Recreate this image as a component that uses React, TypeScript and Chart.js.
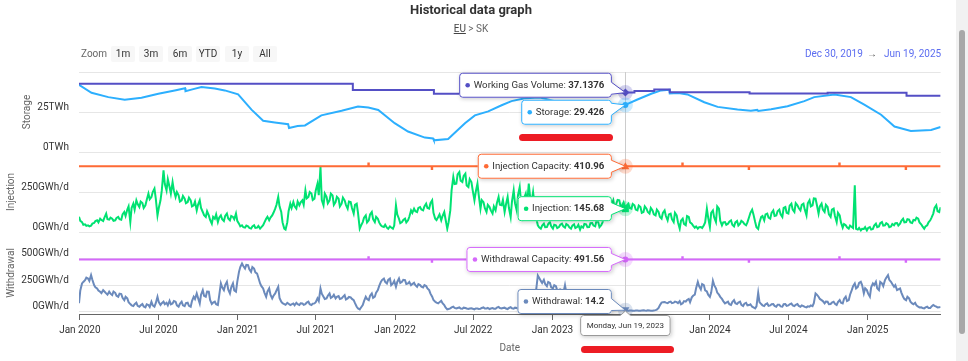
import React, { useEffect, useRef } from "react";
import { Chart, registerables } from "chart.js";

Chart.register(...registerables);

const FONT = 'Roboto, "Open Sans", sans-serif';

// ---------- data ----------
const WEEK_START = "2019-12-30"; // first Monday sample; *_MON on Mondays, *_THU three days later

const INJECTION_MON = [
  95, 62, 48, 42, 40, 56, 73, 83, 69, 115,
  77, 83, 73, 94, 77, 125, 140, 62, 177, 198,
  156, 181, 167, 240, 219, 271, 104, 198, 385, 260,
  281, 312, 219, 229, 198, 208, 187, 198, 167, 135,
  198, 125, 94, 104, 52, 83, 62, 104, 69, 115,
  73, 94, 115, 52, 42, 27, 35, 21, 42, 27,
  21, 42, 83, 73, 104, 146, 219, 125, 21, 60,
  177, 187, 146, 167, 198, 260, 219, 240, 208, 302,
  406, 167, 219, 198, 229, 187, 208, 177, 198, 146,
  187, 115, 177, 21, 62, 104, 73, 125, 62, 83,
  42, 31, 27, 35, 21, 167, 83, 62, 83, 73,
  135, 146, 125, 156, 135, 177, 146, 198, 83, 94,
  73, 125, 21, 135, 344, 302, 375, 312, 365, 281,
  312, 198, 302, 146, 187, 125, 156, 115, 135, 219,
  167, 125, 219, 94, 260, 135, 281, 115, 240, 302,
  198, 156, 42, 21, 52, 31, 62, 21, 42, 31,
  52, 27, 42, 21, 48, 31, 15, 27, 48, 31,
  56, 35, 62, 42, 94, 146, 125, 198, 177, 198,
  167, 145.68, 177, 146, 167, 135, 156, 125, 146, 115,
  135, 104, 125, 83, 135, 73, 115, 62, 104, 21,
  83, 42, 94, 52, 27, 21, 31, 42, 146, 31,
  135, 62, 146, 42, 62, 52, 73, 35, 69, 52,
  62, 42, 94, 140, 62, 19, 94, 73, 115, 83,
  135, 104, 140, 94, 156, 115, 177, 125, 167, 135,
  177, 104, 198, 167, 208, 115, 177, 125, 156, 94,
  146, 62, 104, 27, 42, 21, 31, 292, 15, 10,
  19, 10, 31, 19, 52, 35, 62, 42, 48, 35,
  42, 56, 52, 83, 62, 77, 56, 73, 83, 48,
  21, 42, 73, 115, 167, 125, 140,
];
const INJECTION_THU = [
  70, 45, 38, 35, 52, 68, 60, 75, 90, 80,
  90, 70, 88, 80, 110, 100, 160, 150, 140, 175,
  190, 150, 200, 205, 250, 210, 150, 260, 300, 330,
  240, 260, 250, 190, 225, 180, 215, 160, 190, 170,
  150, 105, 130, 75, 95, 110, 90, 80, 100, 85,
  100, 80, 70, 35, 30, 40, 25, 35, 25, 38,
  30, 60, 95, 90, 120, 170, 160, 60, 15, 130,
  150, 160, 190, 185, 170, 210, 250, 200, 260, 230,
  200, 240, 180, 240, 170, 220, 160, 215, 170, 190,
  150, 170, 120, 40, 90, 60, 110, 80, 95, 60,
  35, 45, 20, 28, 40, 110, 55, 75, 60, 95,
  120, 130, 150, 140, 160, 150, 180, 120, 75, 110,
  100, 80, 60, 260, 300, 360, 320, 350, 290, 330,
  260, 250, 230, 200, 150, 170, 135, 160, 180, 170,
  200, 170, 150, 190, 180, 230, 190, 210, 170, 220,
  250, 90, 30, 40, 30, 50, 35, 45, 25, 45,
  35, 50, 30, 40, 25, 45, 35, 50, 30, 55,
  40, 70, 30, 60, 130, 100, 170, 150, 200, 160,
  185, 165, 150, 175, 140, 165, 120, 160, 125, 150,
  110, 140, 95, 120, 100, 110, 80, 120, 60, 70,
  50, 100, 60, 40, 35, 30, 25, 60, 90, 120,
  90, 160, 70, 60, 45, 65, 45, 60, 40, 70,
  50, 60, 120, 110, 30, 60, 100, 110, 90, 120,
  100, 130, 110, 150, 120, 165, 140, 180, 150, 170,
  140, 180, 160, 210, 170, 160, 140, 170, 110, 140,
  100, 120, 60, 50, 30, 40, 25, 20, 25, 20,
  30, 25, 15, 40, 30, 55, 40, 55, 30, 50,
  55, 40, 70, 60, 80, 60, 75, 90, 60, 35,
  35, 60, 90, 150, 130, 155, 145,
];

const WITHDRAWAL_MON = [
  80, 266, 297, 312, 344, 250, 219, 188, 203, 172,
  188, 156, 178, 141, 166, 109, 125, 72, 53, 84,
  47, 72, 41, 63, 94, 47, 141, 63, 94, 84,
  103, 78, 94, 47, 94, 53, 84, 47, 141, 172,
  78, 203, 141, 188, 72, 94, 63, 266, 203, 281,
  172, 266, 188, 375, 453, 406, 438, 375, 406, 359,
  266, 219, 141, 219, 125, 172, 234, 94, 72, 84,
  63, 78, 84, 63, 78, 72, 94, 63, 78, 125,
  219, 141, 125, 172, 141, 125, 147, 125, 156, 125,
  134, 109, 47, 22, 63, 141, 109, 172, 141, 203,
  281, 312, 266, 312, 266, 234, 312, 281, 297, 266,
  250, 272, 234, 250, 228, 241, 203, 141, 94, 78,
  103, 63, 22, 31, 47, 30, 40, 28, 35, 25,
  32, 22, 30, 28, 40, 30, 25, 35, 28, 45,
  30, 38, 25, 42, 28, 35, 30, 45, 55, 40,
  60, 90, 340, 290, 300, 240, 270, 220, 240, 180,
  200, 250, 150, 140, 110, 120, 90, 100, 75, 85,
  60, 70, 55, 65, 50, 60, 55, 63, 50, 40,
  25, 14.2, 10, 12, 8, 12, 10, 14, 9, 12,
  10, 15, 35, 85, 92, 80, 95, 85, 90, 100,
  80, 95, 120, 135, 160, 280, 210, 250, 190, 140,
  290, 220, 160, 120, 78, 94, 63, 109, 72, 94,
  53, 84, 63, 47, 31, 178, 72, 53, 78, 59,
  72, 47, 66, 47, 72, 59, 78, 53, 72, 47,
  53, 41, 47, 53, 172, 141, 109, 78, 94, 72,
  94, 63, 109, 78, 141, 109, 203, 266, 234, 281,
  172, 203, 141, 266, 281, 203, 266, 297, 344, 281,
  234, 203, 219, 141, 109, 125, 78, 84, 47, 41,
  31, 47, 34, 63, 47, 41, 34,
];
const WITHDRAWAL_THU = [
  200, 280, 320, 290, 300, 230, 200, 175, 190, 160,
  170, 190, 150, 170, 130, 140, 90, 60, 70, 55,
  60, 50, 70, 45, 60, 80, 90, 80, 70, 60,
  70, 100, 60, 75, 60, 80, 55, 100, 120, 130,
  160, 150, 190, 110, 85, 70, 150, 230, 250, 210,
  230, 200, 280, 420, 430, 440, 400, 420, 370, 320,
  240, 180, 190, 160, 150, 200, 130, 80, 65, 75,
  70, 60, 70, 80, 65, 85, 70, 75, 90, 100,
  170, 120, 150, 130, 160, 140, 120, 140, 115, 140,
  120, 80, 30, 40, 100, 120, 150, 130, 180, 240,
  300, 280, 300, 250, 290, 280, 270, 300, 260, 280,
  260, 250, 260, 235, 250, 220, 170, 110, 85, 90,
  80, 40, 25, 40, 35, 35, 30, 38, 30, 30,
  28, 30, 25, 35, 30, 35, 30, 28, 38, 35,
  35, 30, 35, 32, 38, 30, 40, 50, 45, 50,
  70, 200, 320, 270, 260, 280, 230, 250, 200, 210,
  170, 180, 130, 120, 130, 100, 110, 80, 90, 70,
  75, 60, 70, 55, 65, 50, 65, 55, 45, 30,
  20, 12, 11, 9, 11, 10, 12, 11, 13, 10,
  12, 20, 60, 90, 85, 90, 80, 95, 80, 70,
  100, 110, 90, 150, 220, 240, 260, 200, 160, 180,
  250, 180, 140, 100, 85, 70, 90, 80, 85, 65,
  75, 60, 70, 40, 50, 90, 60, 70, 55, 70,
  55, 65, 50, 70, 55, 70, 60, 65, 55, 60,
  45, 50, 60, 80, 160, 120, 100, 95, 70, 85,
  75, 90, 85, 120, 100, 160, 240, 220, 270, 250,
  220, 170, 230, 250, 220, 280, 240, 320, 300, 260,
  250, 210, 180, 120, 140, 95, 70, 60, 40, 35,
  40, 35, 50, 55, 40, 45, 38,
];

const STORAGE_DATES = [
  "2019-12-30", "2020-01-28", "2020-03-07", "2020-04-14", "2020-05-23", "2020-07-01",
  "2020-08-08", "2020-09-01", "2020-09-02", "2020-09-20", "2020-10-09", "2020-11-09",
  "2020-12-02", "2021-01-02", "2021-02-02", "2021-03-01", "2021-03-28", "2021-04-28",
  "2021-04-30", "2021-05-20", "2021-06-06", "2021-07-14", "2021-08-30", "2021-10-07",
  "2021-10-31", "2021-11-23", "2021-12-31", "2022-01-31", "2022-03-11", "2022-03-30",
  "2022-04-01", "2022-05-04", "2022-06-12", "2022-07-05", "2022-08-05", "2022-09-05",
  "2022-09-28", "2022-10-29", "2022-12-03", "2023-01-18", "2023-03-15", "2023-05-20",
  "2023-06-19", "2023-07-17", "2023-08-18", "2023-09-10", "2023-09-29", "2023-09-30",
  "2023-10-20", "2023-11-10", "2023-12-19", "2024-01-19", "2024-03-05", "2024-04-05",
  "2024-04-20", "2024-04-22", "2024-05-22", "2024-06-29", "2024-08-07", "2024-08-30",
  "2024-10-16", "2024-11-23", "2024-12-24", "2025-02-01", "2025-03-04", "2025-04-11",
  "2025-05-28", "2025-06-19",
];
const STORAGE = [
  42.0, 37.0, 34.3, 32.6, 33.9, 36.4,
  38.5, 39.9, 38.0, 39.3, 40.6, 39.7,
  38.5, 36.0, 26.5, 19.5, 18.5, 17.4,
  15.0, 16.2, 16.6, 22.9, 25.8, 28.4,
  27.8, 26.3, 18.0, 12.8, 9.0, 8.5,
  7.3, 8.1, 18.0, 22.9, 25.4, 29.2,
  31.8, 33.6, 34.0, 31.0, 27.5, 26.4,
  29.426, 32.8, 36.4, 38.5, 38.9, 36.6,
  36.9, 36.0, 31.1, 28.2, 26.5, 25.8,
  26.3, 25.7, 26.7, 28.6, 31.8, 34.3,
  36.0, 34.3, 29.6, 23.3, 15.9, 13.2,
  13.8, 15.6,
];

const WGV_DATES = [
  "2019-12-30", "2021-09-25", "2022-04-01", "2022-10-01", "2023-07-10", "2023-08-25",
  "2023-09-30", "2024-04-02", "2024-09-30", "2025-04-01", "2025-06-19",
];
const WGV = [42.6, 38.8, 36.4, 37.1376, 38.2, 39.0, 37.35, 36.5, 37.1, 35.1, 35.1];

const CAP_DATES = [
  "2019-12-30",
  "2021-10-31", "2021-11-01", "2022-03-27", "2022-03-28",
  "2022-10-30", "2022-10-31", "2023-03-26", "2023-03-27",
  "2023-10-29", "2023-10-30", "2024-03-31", "2024-04-01",
  "2024-10-27", "2024-10-28", "2025-03-30", "2025-03-31",
  "2025-06-19",
];
const INJECTION_CAPACITY = [
  410.96,
  428.08, 410.96, 393.84, 410.96,
  428.08, 410.96, 393.84, 410.96,
  428.08, 410.96, 393.84, 410.96,
  428.08, 410.96, 393.84, 410.96,
  410.96,
];
const WITHDRAWAL_CAPACITY = [
  491.56,
  512.04, 491.56, 471.08, 491.56,
  512.04, 491.56, 471.08, 491.56,
  512.04, 491.56, 471.08, 491.56,
  512.04, 491.56, 471.08, 491.56,
  491.56,
];

const X_TICK_DATES = [
  "2020-01-01", "2020-07-01", "2021-01-01", "2021-07-01", "2022-01-01", "2022-07-01",
  "2023-01-01", "2023-07-01", "2024-01-01", "2024-07-01", "2025-01-01",
];
const X_TICK_LABELS = [
  "Jan 2020", "Jul 2020", "Jan 2021", "Jul 2021", "Jan 2022", "Jul 2022",
  "Jan 2023", "Jul 2023", "Jan 2024", "Jul 2024", "Jan 2025",
];
const STORAGE_TICKS = [0, 25, 50];
const INJECTION_TICKS = [0, 250, 500];
const WITHDRAWAL_TICKS = [0, 250, 500, 750];

const RANGE_START = "2019-12-30";
const RANGE_END = "2025-06-19";
const HOVER_DATE = "2023-06-19";
const HOVER_LABEL = "Monday, Jun 19, 2023";
const ZOOM_BUTTONS = ["1m", "3m", "6m", "YTD", "1y", "All"];

// ---------- helpers ----------
const DAY = 86400000;
const toMs = (s: string) => Date.parse(s + "T00:00:00Z");
const twiceWeekly = (mon: number[], thu: number[]) => {
  const out: { x: number; y: number }[] = [];
  const t0 = toMs(WEEK_START);
  mon.forEach((v, i) => {
    out.push({ x: t0 + i * 7 * DAY, y: v });
    if (i < thu.length) out.push({ x: t0 + (i * 7 + 3) * DAY, y: thu[i] });
  });
  return out;
};
const dated = (dates: string[], vals: number[]) => dates.map((d, i) => ({ x: toMs(d), y: vals[i] }));

function valueAt(pts: { x: number; y: number }[], t: number) {
  let v = pts[0].y;
  for (const p of pts) if (p.x <= t) v = p.y;
  return v;
}

const PURPLE = "#544fc5";
const BLUE = "#2caffe";
const ORANGE = "#fe6a35";
const GREEN = "#00e272";
const PINK = "#d568fb";
const STEEL = "#6b8abc";

function hexA(hex: string, a: number) {
  const n = parseInt(hex.slice(1), 16);
  return `rgba(${(n >> 16) & 255},${(n >> 8) & 255},${n & 255},${a})`;
}

function drawShape(ctx: CanvasRenderingContext2D, shape: string, x: number, y: number, r: number) {
  ctx.beginPath();
  if (shape === "diamond") {
    ctx.moveTo(x, y - r); ctx.lineTo(x + r, y); ctx.lineTo(x, y + r); ctx.lineTo(x - r, y);
  } else if (shape === "square") {
    ctx.rect(x - r + 0.5, y - r + 0.5, 2 * r - 1, 2 * r - 1);
  } else if (shape === "triangle") {
    ctx.moveTo(x, y - r); ctx.lineTo(x + r, y + r - 1); ctx.lineTo(x - r, y + r - 1);
  } else if (shape === "triangle-down") {
    ctx.moveTo(x - r, y - r + 1); ctx.lineTo(x + r, y - r + 1); ctx.lineTo(x, y + r);
  } else {
    ctx.arc(x, y, r - 1, 0, Math.PI * 2);
  }
  ctx.closePath();
  ctx.fill();
}

function calloutPath(ctx: CanvasRenderingContext2D, x: number, y: number, w: number, h: number, r: number,
  ax: number, ay: number, side: string) {
  const x1 = x + w, y1 = y + h;
  ctx.beginPath();
  ctx.moveTo(x + r, y);
  if (side === "top") {
    const cx = Math.min(Math.max(ax, x + r + 5), x1 - r - 5);
    ctx.lineTo(cx - 5, y); ctx.lineTo(ax, ay); ctx.lineTo(cx + 5, y);
  }
  ctx.lineTo(x1 - r, y);
  ctx.arcTo(x1, y, x1, y + r, r);
  if (side === "right") {
    const cy = Math.min(Math.max(ay, y + r + 6), y1 - r - 6);
    ctx.lineTo(x1, cy - 6); ctx.lineTo(ax, ay); ctx.lineTo(x1, cy + 6);
  }
  ctx.lineTo(x1, y1 - r);
  ctx.arcTo(x1, y1, x1 - r, y1, r);
  ctx.lineTo(x + r, y1);
  ctx.arcTo(x, y1, x, y1 - r, r);
  ctx.lineTo(x, y + r);
  ctx.arcTo(x, y, x + r, y, r);
  ctx.closePath();
}

function drawBox(ctx: CanvasRenderingContext2D, x: number, y: number, w: number, h: number,
  ax: number, ay: number, side: string, border: string) {
  ctx.save();
  ctx.shadowColor = "rgba(0,0,0,0.22)";
  ctx.shadowBlur = 4;
  ctx.shadowOffsetX = 1;
  ctx.shadowOffsetY = 1;
  calloutPath(ctx, x, y, w, h, 3, ax, ay, side);
  ctx.fillStyle = "#ffffff";
  ctx.fill();
  ctx.restore();
  calloutPath(ctx, x + 0.5, y + 0.5, w - 1, h - 1, 3, ax, ay, side);
  ctx.strokeStyle = border;
  ctx.lineWidth = 1;
  ctx.stroke();
}

export default function App() {
  const ref = useRef<HTMLCanvasElement>(null);

  useEffect(() => {
    const wgv = dated(WGV_DATES, WGV);
    const storage = dated(STORAGE_DATES, STORAGE);
    const injCap = dated(CAP_DATES, INJECTION_CAPACITY);
    const inj = twiceWeekly(INJECTION_MON, INJECTION_THU);
    const wdCap = dated(CAP_DATES, WITHDRAWAL_CAPACITY);
    const wd = twiceWeekly(WITHDRAWAL_MON, WITHDRAWAL_THU);
    const hoverT = toMs(HOVER_DATE);

    const SERIES = [
      { name: "Working Gas Volume", color: PURPLE, axis: "yS", pts: wgv, shape: "diamond" },
      { name: "Storage", color: BLUE, axis: "yS", pts: storage, shape: "circle" },
      { name: "Injection Capacity", color: ORANGE, axis: "yI", pts: injCap, shape: "triangle" },
      { name: "Injection", color: GREEN, axis: "yI", pts: inj, shape: "square" },
      { name: "Withdrawal Capacity", color: PINK, axis: "yW", pts: wdCap, shape: "circle" },
      { name: "Withdrawal", color: STEEL, axis: "yW", pts: wd, shape: "triangle-down" },
    ];

    const hoverPlugin = {
      id: "hoverSplit",
      beforeDatasetsDraw(chart: any) {
        const ctx = chart.ctx;
        const x = Math.round(chart.scales.x.getPixelForValue(hoverT)) + 0.5;
        ctx.save();
        ctx.strokeStyle = "#cccccc";
        ctx.lineWidth = 1;
        ctx.beginPath();
        ctx.moveTo(x, chart.chartArea.top);
        ctx.lineTo(x, chart.chartArea.bottom);
        ctx.stroke();
        ctx.restore();
      },
      afterDraw(chart: any) {
        const ctx = chart.ctx;
        const area = chart.chartArea;
        const ax = chart.scales.x.getPixelForValue(hoverT);
        const items = SERIES.map((s) => {
          const v = valueAt(s.pts, hoverT);
          return { ...s, v, ay: chart.scales[s.axis].getPixelForValue(v) };
        });
        // halos + markers
        ctx.save();
        for (const it of items) {
          ctx.fillStyle = hexA(it.color, 0.25);
          ctx.beginPath();
          ctx.arc(ax, it.ay, 7.5, 0, Math.PI * 2);
          ctx.fill();
          ctx.fillStyle = it.color;
          drawShape(ctx, it.shape, ax, it.ay, 4);
        }
        ctx.restore();

        // split tooltips
        const H = 25, GAP = 2;
        const sorted = [...items].sort((a, b) => a.ay - b.ay);
        let clusters = sorted.map((it) => ({ list: [it], top: it.ay - H / 2 }));
        const clamp = (c: any) => {
          const hh = c.list.length * H + (c.list.length - 1) * GAP;
          c.top = Math.max(area.top, Math.min(c.top, area.bottom - hh));
        };
        clusters.forEach(clamp);
        let changed = true;
        while (changed) {
          changed = false;
          for (let i = 1; i < clusters.length; i++) {
            const a = clusters[i - 1], b = clusters[i];
            const ah = a.list.length * H + (a.list.length - 1) * GAP;
            if (a.top + ah + GAP > b.top) {
              const list = [...a.list, ...b.list];
              const mean = list.reduce((s, it) => s + it.ay, 0) / list.length;
              const hh = list.length * H + (list.length - 1) * GAP;
              const c = { list, top: mean - hh / 2 };
              clamp(c);
              clusters.splice(i - 1, 2, c);
              changed = true;
              break;
            }
          }
        }
        const normal = `9.7px ${FONT}`;
        const bold = `bold 9.7px ${FONT}`;
        for (const c of clusters) {
          c.list.forEach((it: any, k: number) => {
            const top = c.top + k * (H + GAP);
            const label = it.name + ": ";
            const val = String(it.v);
            ctx.font = normal;
            const w1 = ctx.measureText(label).width;
            ctx.font = bold;
            const w2 = ctx.measureText(val).width;
            const w = 14.5 + w1 + w2 + 7.5;
            const right = ax - 13.5;
            const left = right - w;
            drawBox(ctx, left, top, w, H, ax, it.ay, "right", it.color);
            const cy = top + H / 2;
            ctx.fillStyle = it.color;
            ctx.beginPath();
            ctx.arc(left + 8.5, cy, 2.3, 0, Math.PI * 2);
            ctx.fill();
            ctx.textBaseline = "middle";
            ctx.textAlign = "left";
            ctx.fillStyle = "#333333";
            ctx.font = normal;
            ctx.fillText(label, left + 14.5, cy);
            ctx.font = bold;
            ctx.fillText(val, left + 14.5 + w1, cy);
          });
        }

        // date header below the axis
        ctx.font = `8px ${FONT}`;
        const tw = ctx.measureText(HOVER_LABEL).width;
        const bw = tw + 13, bh = 21;
        const bx = ax - bw / 2, by = area.bottom + 1;
        drawBox(ctx, bx, by, bw, bh, ax, area.bottom - 3, "top", "#999999");
        ctx.fillStyle = "#333333";
        ctx.textAlign = "center";
        ctx.textBaseline = "middle";
        ctx.fillText(HOVER_LABEL, ax, by + bh / 2 + 0.5);
      },
    };

    const yAxis = (ticks: number[], min: number, max: number, weight: number, unit: string,
      title: string, hideTop: boolean, titlePad: number) => ({
      type: "linear",
      position: "left",
      stack: "panes",
      stackWeight: weight,
      min,
      max,
      afterBuildTicks: (s: any) => { s.ticks = ticks.map((v) => ({ value: v })); },
      afterFit: (s: any) => { s.width = 79; },
      ticks: {
        callback: (v: number) => (hideTop && v === ticks[ticks.length - 1] ? "" : v + unit),
        padding: 10,
        labelOffset: -5,
        color: "#333333",
        font: { family: FONT, size: 10 },
      },
      grid: { color: "#e6e6e6", lineWidth: 1, drawTicks: false },
      border: { display: false },
      title: {
        display: true,
        text: title,
        color: "#666666",
        font: { family: FONT, size: 10 },
        padding: { top: titlePad, bottom: 0 },
      },
    });

    const xTicks = X_TICK_DATES.map(toMs);

    const chart = new Chart(ref.current as HTMLCanvasElement, {
      type: "line",
      data: {
        datasets: [
          { label: "Working Gas Volume", data: wgv, yAxisID: "yS", borderColor: PURPLE, borderWidth: 2, stepped: "before", pointRadius: 0 },
          { label: "Storage", data: storage, yAxisID: "yS", borderColor: BLUE, borderWidth: 2, pointRadius: 0 },
          { label: "Injection Capacity", data: injCap, yAxisID: "yI", borderColor: ORANGE, borderWidth: 2, stepped: "before", pointRadius: 0 },
          { label: "Injection", data: inj, yAxisID: "yI", borderColor: GREEN, borderWidth: 2, pointRadius: 0 },
          { label: "Withdrawal Capacity", data: wdCap, yAxisID: "yW", borderColor: PINK, borderWidth: 2, stepped: "before", pointRadius: 0 },
          { label: "Withdrawal", data: wd, yAxisID: "yW", borderColor: STEEL, borderWidth: 2, pointRadius: 0 },
        ] as any,
      },
      options: {
        animation: false,
        responsive: false,
        maintainAspectRatio: false,
        events: [],
        layout: { padding: { top: 72, right: 27.4, left: 0, bottom: 0 } },
        plugins: { legend: { display: false }, tooltip: { enabled: false }, title: { display: false } },
        scales: {
          x: {
            type: "linear",
            min: toMs(RANGE_START),
            max: toMs(RANGE_END),
            afterBuildTicks: (s: any) => { s.ticks = xTicks.map((v) => ({ value: v })); },
            afterFit: (s: any) => { s.height = 47; },
            ticks: {
              callback: (_v: number, i: number) => X_TICK_LABELS[i],
              autoSkip: false,
              maxRotation: 0,
              padding: 4,
              color: "#333333",
              font: { family: FONT, size: 10 },
            },
            grid: { drawOnChartArea: false, drawTicks: true, tickLength: 6, color: "#666666", lineWidth: 1 },
            border: { display: true, color: "#666666", width: 1 },
            title: {
              display: true,
              text: "Date",
              color: "#666666",
              font: { family: FONT, size: 10 },
              padding: { top: 0, bottom: 7 },
            },
          },
          yW: yAxis(WITHDRAWAL_TICKS, -21.6, 750, 82, "GWh/d", "Withdrawal", true, 5),
          yI: yAxis(INJECTION_TICKS, 0, 500, 80, "GWh/d", "Injection", true, 5),
          yS: yAxis(STORAGE_TICKS, 0, 50, 80, "TWh", "Storage", true, 21),
        } as any,
      },
      plugins: [hoverPlugin],
    });
    return () => chart.destroy();
  }, []);

  const btn = (label: string, left: number) => (
    <div key={label} style={{
      position: "absolute", left, top: 46, width: 24, height: 16, lineHeight: "16px",
      background: "#f7f7f7", borderRadius: 2, textAlign: "center", fontSize: 10, color: "#333",
    }}>{label}</div>
  );

  return (
    <div style={{ position: "absolute", left: 0, top: 0, width: 968, height: 361, background: "#fff", overflow: "hidden", fontFamily: FONT }}>
      <canvas ref={ref} width={968} height={361} style={{ position: "absolute", left: 0, top: 0 }} />
      <div style={{ position: "absolute", left: 321, width: 300, top: 1, lineHeight: "18px", textAlign: "center", fontSize: 13, fontWeight: 700, color: "#333" }}>
        Historical data graph
      </div>
      <div style={{ position: "absolute", left: 321, width: 300, top: 22, lineHeight: "14px", textAlign: "center", fontSize: 10, color: "#666" }}>
        <span style={{ textDecoration: "underline", color: "#444" }}>EU</span> &gt; SK
      </div>
      <div style={{ position: "absolute", left: 81, top: 46, lineHeight: "16px", fontSize: 10, color: "#666" }}>Zoom</div>
      {ZOOM_BUTTONS.map((b, i) => btn(b, [111, 139, 168, 196, 225, 253][i]))}
      <div style={{ position: "absolute", left: 805, top: 46, lineHeight: "16px", fontSize: 10, color: "#5b6cf0" }}>Dec 30, 2019</div>
      <div style={{ position: "absolute", left: 867, top: 46, lineHeight: "16px", fontSize: 10, color: "#555" }}>→</div>
      <div style={{ position: "absolute", left: 884, top: 46, lineHeight: "16px", fontSize: 10, color: "#5b6cf0" }}>Jun 19, 2025</div>
      <div style={{ position: "absolute", left: 956, top: 0, width: 12, height: 361, background: "#f1f1f1" }} />
      <div style={{ position: "absolute", left: 959, top: 30, width: 6, height: 304, background: "#a8a8a8", borderRadius: 3 }} />
      <div style={{ position: "absolute", left: 519, top: 134, width: 94, height: 7, background: "#ed1c24", borderRadius: 4 }} />
      <div style={{ position: "absolute", left: 581, top: 346, width: 93, height: 7, background: "#ed1c24", borderRadius: 4 }} />
    </div>
  );
}
